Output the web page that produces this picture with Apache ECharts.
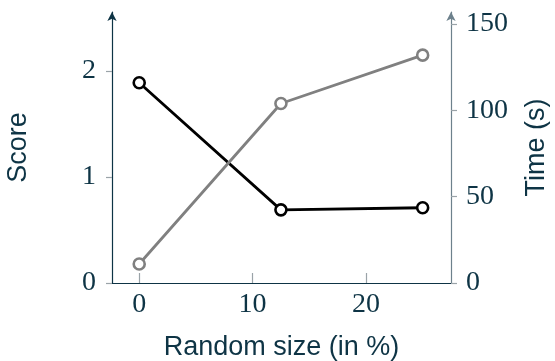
<!DOCTYPE html>
<html>
<head>
<meta charset="utf-8">
<script src="https://cdn.jsdelivr.net/npm/echarts@6/dist/echarts.min.js"></script>
<style>
html,body{margin:0;padding:0;background:#fff;}
#chart{width:555px;height:361px;}
</style>
</head>
<body>
<div id="chart"></div>
<script>
// data
var sizes = [0, 12.5, 25];
var score = [1.89, 0.69, 0.71];
var time = [11, 104, 132];
var xTicks = [0, 10, 20];
var scoreTicks = [0, 1, 2];
var timeTicks = [0, 50, 100, 150];

var ink = '#0e3445';
var tickCol = '#9aa3a8';
var serif = 'Liberation Serif';
var sans = 'Liberation Sans';

var chart = echarts.init(document.getElementById('chart'));

function pairs(xs, ys){
	var out = [];
	for(var i = 0; i < xs.length; i++){
		out.push([xs[i], ys[i]]);
	}
	return out;
}

var option = {
	animation: false,
	grid: {
		left: 112,
		right: 104,
		top: 12,
		bottom: 78,
		outerBoundsMode: 'none',
		containLabel: false
	},
	xAxis: {
		type: 'value',
		min: -2.4,
		max: 27.5,
		name: 'Random size (in %)',
		nameLocation: 'middle',
		nameGap: 51,
		nameTextStyle: {color: ink, fontFamily: sans, fontSize: 27},
		splitLine: {show: false},
		axisLine: {show: true, onZero: false, lineStyle: {color: ink, width: 1.2}},
		axisTick: {show: true, inside: true, length: 10, customValues: xTicks, lineStyle: {color: tickCol, width: 1.2}},
		axisLabel: {customValues: xTicks, color: ink, fontFamily: serif, fontSize: 28, margin: 8}
	},
	yAxis: [
		{
			type: 'value',
			min: 0,
			max: 2.557,
			position: 'left',
			name: 'Score',
			nameLocation: 'middle',
			nameGap: 80,
			nameRotate: 90,
			nameTextStyle: {color: ink, fontFamily: sans, fontSize: 27},
			splitLine: {show: false},
			axisLine: {show: true, onZero: false, symbol: ['none', 'arrow'], symbolSize: [7, 9], lineStyle: {color: ink, width: 1.2}},
			axisTick: {show: true, length: 6, customValues: scoreTicks, lineStyle: {color: tickCol, width: 1.2}},
			axisLabel: {customValues: scoreTicks, color: ink, fontFamily: serif, fontSize: 28, margin: 16}
		},
		{
			type: 'value',
			min: 0,
			max: 157,
			position: 'right',
			name: 'Time (s)',
			nameLocation: 'middle',
			nameGap: 72,
			nameRotate: 90,
			nameTextStyle: {color: ink, fontFamily: sans, fontSize: 27},
			splitLine: {show: false},
			axisLine: {show: true, onZero: false, symbol: ['none', 'arrow'], symbolSize: [7, 9], lineStyle: {color: '#6d818c', width: 1.2}},
			axisTick: {show: true, length: 6, customValues: timeTicks, lineStyle: {color: tickCol, width: 1.2}},
			axisLabel: {customValues: timeTicks, color: ink, fontFamily: serif, fontSize: 28, margin: 15}
		}
	],
	series: [
		{
			name: 'Score',
			type: 'line',
			yAxisIndex: 0,
			data: pairs(sizes, score),
			symbol: 'circle',
			symbolSize: 11,
			lineStyle: {color: '#000', width: 2.8},
			itemStyle: {color: '#fff', borderColor: '#000', borderWidth: 2.6}
		},
		{
			name: 'Time',
			type: 'line',
			yAxisIndex: 1,
			data: pairs(sizes, time),
			symbol: 'circle',
			symbolSize: 11,
			lineStyle: {color: '#808080', width: 2.8},
			itemStyle: {color: '#fff', borderColor: '#808080', borderWidth: 2.6}
		}
	]
};
chart.setOption(option);
</script>
</body>
</html>
